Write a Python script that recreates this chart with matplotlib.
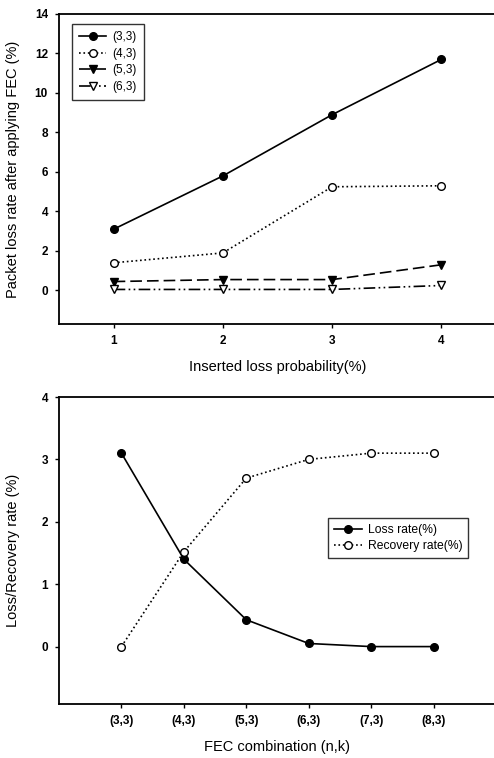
import matplotlib.pyplot as plt

plt.rcParams['font.family'] = ['Liberation Sans', 'DejaVu Sans']

# top panel: loss after FEC vs inserted loss
loss_prob = [1, 2, 3, 4]
fec_33 = [3.1, 5.8, 8.9, 11.7]
fec_43 = [1.4, 1.9, 5.25, 5.3]
fec_53 = [0.45, 0.55, 0.55, 1.3]
fec_63 = [0.05, 0.05, 0.05, 0.25]

# bottom panel: loss / recovery per FEC combination
fec_labels = ['(3,3)', '(4,3)', '(5,3)', '(6,3)', '(7,3)', '(8,3)']
loss_rate = [3.1, 1.4, 0.43, 0.05, 0.0, 0.0]
recovery_rate = [0.0, 1.52, 2.7, 3.0, 3.1, 3.1]

W, H = 494, 758
fig = plt.figure(figsize=(W / 100, H / 100), dpi=100)
ax1 = fig.add_axes([59 / W, (H - 324) / H, 437 / W, 310 / H])
ax2 = fig.add_axes([59 / W, (H - 704) / H, 437 / W, 307 / H])


def style(ax):
    ax.spines['right'].set_visible(False)
    for s in ['left', 'top', 'bottom']:
        ax.spines[s].set_linewidth(1.3)
    ax.tick_params(direction='out', length=3, width=1, labelsize=8.5, pad=5)
    for lab in ax.get_xticklabels() + ax.get_yticklabels():
        lab.set_fontweight('bold')
    ax.yaxis.set_label_coords(-(59 - 20) / 437, 0.5)


k = dict(color='black', lw=1.2, ms=5.5)
ax1.plot(loss_prob, fec_33, '-', marker='o', mfc='black', label='(3,3)', **k)
ax1.plot(loss_prob, fec_43, ':', marker='o', mfc='white', label='(4,3)', **k)
ax1.plot(loss_prob, fec_53, '--', marker='v', mfc='black', dashes=(7, 3), label='(5,3)', **k)
ax1.plot(loss_prob, fec_63, '-', marker='v', mfc='white', dashes=(7, 2, 1, 2, 1, 2), label='(6,3)', **k)
ax1.set_xlim(0.5, 4.5)
ax1.set_ylim(-1.7, 14)
ax1.set_xticks(loss_prob)
ax1.set_yticks([0, 2, 4, 6, 8, 10, 12, 14])
ax1.set_xlabel('Inserted loss probability(%)', fontsize=10.5, labelpad=9)
ax1.set_ylabel('Packet loss rate after applying FEC (%)', fontsize=10.5)
style(ax1)
ax1.legend(loc='upper left', bbox_to_anchor=(0.03, 0.968), borderaxespad=0, fontsize=8.5,
           frameon=True, fancybox=False, edgecolor='black', handlelength=2.3,
           handletextpad=0.5, borderpad=0.6, labelspacing=0.4).get_frame().set_linewidth(1)

x = list(range(len(fec_labels)))
ax2.plot(x, loss_rate, '-', marker='o', mfc='black', label='Loss rate(%)', **k)
ax2.plot(x, recovery_rate, ':', marker='o', mfc='white', label='Recovery rate(%)', **k)
ax2.set_xlim(-1, 6)
ax2.set_ylim(-0.92, 4)
ax2.set_xticks(x)
ax2.set_xticklabels(fec_labels)
ax2.set_yticks([0, 1, 2, 3, 4])
ax2.set_xlabel('FEC combination (n,k)', fontsize=10.5, labelpad=9)
ax2.set_ylabel('Loss/Recovery rate (%)', fontsize=10.5)
style(ax2)
ax2.legend(loc='upper left', bbox_to_anchor=(0.615, (704 - 518) / 307), borderaxespad=0,
           fontsize=8.7, frameon=True, fancybox=False, edgecolor='black', handlelength=2.3,
           handletextpad=0.5, borderpad=0.5, labelspacing=0.35).get_frame().set_linewidth(1)

fig.savefig('out.png', dpi=100)
